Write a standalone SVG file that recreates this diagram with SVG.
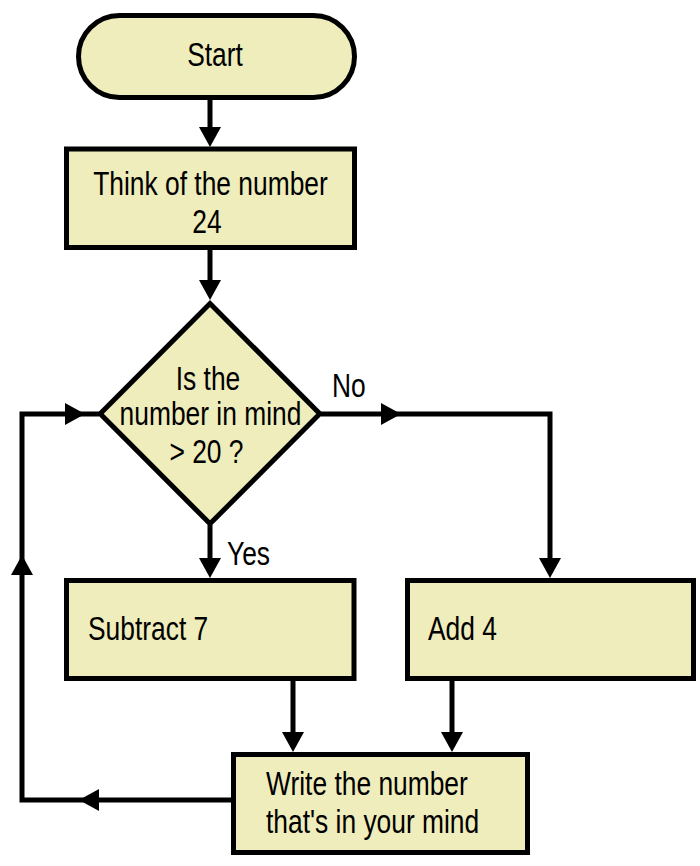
<svg xmlns="http://www.w3.org/2000/svg" xmlns:xlink="http://www.w3.org/1999/xlink" width="700" height="866" viewBox="0 0 700 866">
  <style>
    .shape { fill: #EEEDBB; stroke: #000; stroke-width: 5; stroke-linejoin: miter; }
    .line { fill: none; stroke: #000; stroke-width: 5; stroke-linejoin: miter; stroke-linecap: butt; }
    .t { font-family: "Liberation Sans", Arial, sans-serif; font-size: 34px; fill: #000; }
    .c { text-anchor: middle; }
  </style>
  <defs>
    <path id="ah" d="M0,0 L-20,-11 L-20,11 Z" fill="#000"/>
  </defs>
  <rect width="700" height="866" fill="#fff"/>

  <g id="connectors">
    <line class="line" x1="210" y1="98" x2="210" y2="135"/>
    <use xlink:href="#ah" transform="translate(210,147) rotate(90)"/>
    <line class="line" x1="210" y1="248" x2="210" y2="288"/>
    <use xlink:href="#ah" transform="translate(210,300) rotate(90)"/>
    <line class="line" x1="210" y1="525" x2="210" y2="566"/>
    <use xlink:href="#ah" transform="translate(210,578) rotate(90)"/>
    <path class="line" d="M321,414 H550 V566"/>
    <use xlink:href="#ah" transform="translate(401,414)"/>
    <use xlink:href="#ah" transform="translate(550,578) rotate(90)"/>
    <line class="line" x1="293" y1="679" x2="293" y2="740"/>
    <use xlink:href="#ah" transform="translate(293,752) rotate(90)"/>
    <line class="line" x1="452" y1="679" x2="452" y2="740"/>
    <use xlink:href="#ah" transform="translate(452,752) rotate(90)"/>
    <path class="line" d="M232,800 H22 V414 H99"/>
    <use xlink:href="#ah" transform="translate(79,800) rotate(180)"/>
    <use xlink:href="#ah" transform="translate(22,555) rotate(-90)"/>
    <use xlink:href="#ah" transform="translate(85,414)"/>
    <text class="t" transform="matrix(0.776,0,0,1,332,397)">No</text>
    <text class="t" transform="matrix(0.776,0,0,1,227,565)">Yes</text>
  </g>

  <g id="start">
    <rect class="shape" x="78.5" y="15.5" width="276" height="82" rx="41" ry="41"/>
    <text class="t c" transform="matrix(0.776,0,0,1,215,66)">Start</text>
  </g>

  <g id="think">
    <rect class="shape" x="66.5" y="149" width="288" height="98.5"/>
    <text class="t c" transform="matrix(0.776,0,0,1,210.5,195)">Think of the number</text>
    <text class="t c" transform="matrix(0.776,0,0,1,207,233)">24</text>
  </g>

  <g id="decision">
    <polygon class="shape" points="210,303.5 319.8,413.7 210,523.8 100.2,413.7"/>
    <text class="t c" transform="matrix(0.776,0,0,1,208,390)">Is the</text>
    <text class="t c" transform="matrix(0.776,0,0,1,210.5,425)">number in mind</text>
    <text class="t c" transform="matrix(0.776,0,0,1,206.5,463)">&gt; 20 ?</text>
  </g>

  <g id="subtract">
    <rect class="shape" x="66.5" y="580.5" width="287.5" height="98"/>
    <text class="t" transform="matrix(0.776,0,0,1,88,640)">Subtract 7</text>
  </g>

  <g id="add">
    <rect class="shape" x="407.5" y="580.5" width="286" height="98"/>
    <text class="t" transform="matrix(0.776,0,0,1,428,640)">Add 4</text>
  </g>

  <g id="write">
    <rect class="shape" x="233.5" y="754.5" width="294" height="98"/>
    <text class="t" transform="matrix(0.776,0,0,1,266,795)">Write the number</text>
    <text class="t" transform="matrix(0.776,0,0,1,266,833)">that's in your mind</text>
  </g>
</svg>
